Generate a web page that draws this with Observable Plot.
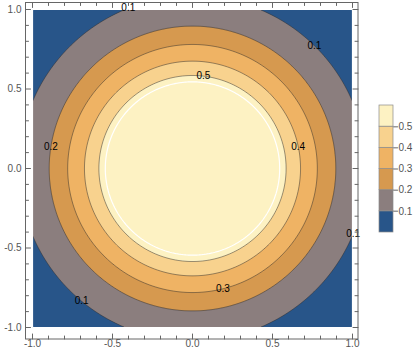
<!DOCTYPE html>
<html><head><meta charset="utf-8">
<script src="https://cdn.jsdelivr.net/npm/d3@7"></script>
<script src="https://cdn.jsdelivr.net/npm/@observablehq/plot@0.6"></script>
<style>
body{margin:0;background:#fff;}
#wrap{position:relative;width:420px;height:353px;}
#wrap svg{position:absolute;left:0;top:0;}
</style></head><body><div id="wrap"></div>
<script>
// contour levels and the radius at which each level's contour lies
const levels = [0.1, 0.2, 0.3, 0.4, 0.5];
const radii = [1.085, 0.895, 0.78, 0.675, 0.585];
const whiteRadius = 0.545;
const bandColors = ["#285589", "#8b7e7e", "#d6994f", "#efb364", "#f8d28e", "#fdf2c3"];
const majorTicks = [-1, -0.5, 0, 0.5, 1];
const tickLabels = ["-1.0", "-0.5", "0.0", "0.5", "1.0"];
const minorTicks = [-0.9, -0.8, -0.7, -0.6, -0.4, -0.3, -0.2, -0.1, 0.1, 0.2, 0.3, 0.4, 0.6, 0.7, 0.8, 0.9];
const labelLevels = [0.1, 0.1, 0.2, 0.5, 0.4, 0.1, 0.3, 0.1];
const labelAngles = [111.7, 45.4, 171.3, 83.3, 11.9, -22.3, -75.9, -129.7];

const rToLevel = d3.scaleLinear().domain(radii).range(levels);
const labels = labelLevels.map((lv, i) => {
  const r = radii[levels.indexOf(lv)];
  const a = labelAngles[i] * Math.PI / 180;
  return {lv, x: r * Math.cos(a), y: r * Math.sin(a)};
});

const tickShape = {draw(ctx, l) { ctx.moveTo(0, 0); ctx.lineTo(0, -l); }};
const axisColor = "#666";
const txtColor = "#555";
function ticksX(data, len, anchor, dy, rotate) {
  return Plot.vectorX(data, {x: d => d, frameAnchor: anchor, dy, length: len, rotate, anchor: "start", shape: tickShape, stroke: axisColor, strokeWidth: 1});
}
function ticksY(data, len, anchor, dx, rotate) {
  return Plot.vectorY(data, {y: d => d, frameAnchor: anchor, dx, length: len, rotate, anchor: "start", shape: tickShape, stroke: axisColor, strokeWidth: 1});
}

const main = Plot.plot({
  width: 420, height: 353,
  marginLeft: 32, marginRight: 68, marginTop: 9, marginBottom: 26,
  style: {fontFamily: "Liberation Sans, Arial, sans-serif", fontSize: "10px", background: "white"},
  x: {domain: [-1, 1], axis: null},
  y: {domain: [-1, 1], axis: null},
  color: {type: "threshold", domain: levels.slice(1), range: bandColors.slice(1)},
  marks: [
    Plot.frame({fill: bandColors[0], stroke: null}),
    Plot.contour({x1: -1, y1: -1, x2: 1, y2: 1, fill: (x, y) => rToLevel(Math.hypot(x, y)), thresholds: levels, stroke: "#2a2a2a", strokeOpacity: 0.6, strokeWidth: 0.8, pixelSize: 1}),
    Plot.contour({x1: -1, y1: -1, x2: 1, y2: 1, value: (x, y) => Math.hypot(x, y), thresholds: [whiteRadius], fill: null, stroke: "white", strokeWidth: 1.2, pixelSize: 1}),
    Plot.text(labels, {x: "x", y: "y", text: d => d.lv.toFixed(1), fill: "black", fontSize: 10}),
    Plot.frame({stroke: axisColor, fill: null, insetLeft: -7, insetRight: -5.5, insetTop: -7, insetBottom: -11.5}),
    ticksX(majorTicks, 5, "bottom", 11.5, 0),
    ticksX(minorTicks, 3, "bottom", 11.5, 0),
    ticksX(majorTicks, 5, "top", -7, 180),
    ticksX(minorTicks, 3, "top", -7, 180),
    ticksY(majorTicks, 5, "left", -7, 90),
    ticksY(minorTicks, 3, "left", -7, 90),
    ticksY(majorTicks, 5, "right", 5.5, -90),
    ticksY(minorTicks, 3, "right", 5.5, -90),
    Plot.text(majorTicks, {x: d => d, text: (d, i) => tickLabels[i], frameAnchor: "bottom", dy: 19, fill: txtColor, fontSize: 10}),
    Plot.text(majorTicks, {y: d => d, text: (d, i) => tickLabels[i], frameAnchor: "left", dx: -11, textAnchor: "end", fill: txtColor, fontSize: 10})
  ]
});

const bands = bandColors.map((c, i) => ({lo: i * 0.1, hi: (i + 1) * 0.1, c}));
const legend = Plot.plot({
  width: 420, height: 353,
  marginLeft: 379, marginRight: 27, marginTop: 105, marginBottom: 121,
  style: {fontFamily: "Liberation Sans, Arial, sans-serif", fontSize: "10px", background: "transparent", color: txtColor},
  x: {domain: [0, 1], axis: null},
  y: {domain: [0, 0.6], axis: null},
  marks: [
    Plot.rect(bands, {x1: 0, x2: 1, y1: "lo", y2: "hi", fill: "c", stroke: "#8a8a8a", strokeWidth: 0.7}),
    Plot.vectorY(levels, {y: d => d, frameAnchor: "right", length: 4, rotate: 90, anchor: "start", shape: tickShape, stroke: "#999"}),
    Plot.text(levels, {y: d => d, text: d => d.toFixed(1), frameAnchor: "right", dx: 5, textAnchor: "start", fill: txtColor, fontSize: 10})
  ]
});

const wrap = document.getElementById("wrap");
wrap.appendChild(main);
wrap.appendChild(legend);
</script></body></html>
